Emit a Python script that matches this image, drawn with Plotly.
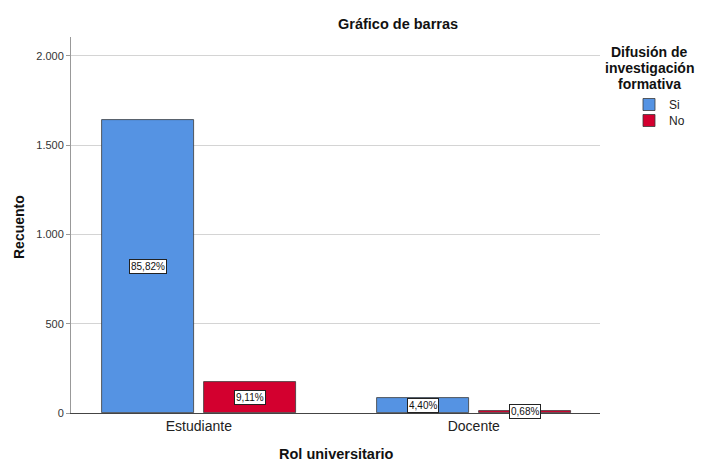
import plotly.graph_objects as go

categories = ["Estudiante", "Docente"]
series_names = ["Si", "No"]
si_counts = [1640, 84]
no_counts = [174, 13]
si_pct = ["85,82%", "4,40%"]
no_pct = ["9,11%", "0,68%"]
y_ticks = [0, 500, 1000, 1500, 2000]
legend_title_lines = ["Difusión de", "investigación", "formativa"]

BLUE = "#5593E3"
RED = "#D3002F"
FONT = "Liberation Sans, Arial, sans-serif"

OFF = 8  # page body margin
W, H = 706 - OFF, 464 - OFF
L, T = 71 - OFF, 37 - OFF
R = W - (600 - OFF)
B = H - (413 - OFF)

xpos = list(range(len(categories)))
bar_w = 0.3345
si_off = -0.3527
no_off = 0.018

fig = go.Figure()
fig.add_trace(go.Bar(x=xpos, y=si_counts, name=series_names[0], width=bar_w, offset=si_off,
                     legend="legend",
                     marker=dict(color=BLUE, line=dict(color="#3a3a3a", width=0.8))))
fig.add_trace(go.Bar(x=xpos, y=no_counts, name=series_names[1], width=bar_w, offset=no_off,
                     legend="legend2",
                     marker=dict(color=RED, line=dict(color="#3a3a3a", width=0.8))))

for i in xpos:
    for vals, labs, off in ((si_counts, si_pct, si_off), (no_counts, no_pct, no_off)):
        fig.add_annotation(x=i + off + bar_w / 2, y=vals[i] / 2, text=labs[i], showarrow=False,
                           xref="x", yref="y", bgcolor="white", bordercolor="#222222",
                           borderwidth=1, borderpad=1,
                           font=dict(family=FONT, size=10, color="#111111"))

pw = W - L - R
ph = H - T - B
def px_x(p):
    return (p - OFF - L) / pw
def px_y(p):
    return (H - B - (p - OFF)) / ph

def label(text, x, y, size, angle=0):
    fig.add_annotation(text=text, x=px_x(x), y=px_y(y), xref="paper", yref="paper",
                       xanchor="center", yanchor="middle", showarrow=False, textangle=angle,
                       font=dict(family=FONT, size=size, color="#111111"))

label("<b>Gráfico de barras</b>", 398, 24, 14.5)
for k, line in enumerate(legend_title_lines):
    label(f"<b>{line}</b>", 649, 52 + 16 * k, 14)
label("<b>Recuento</b>", 19, 227, 14, angle=-90)
label("<b>Rol universitario</b>", 336, 454, 14.5)

leg_common = dict(xref="container", yref="container", xanchor="left", yanchor="top",
                  font=dict(family=FONT, size=12, color="#222222"), bgcolor="rgba(0,0,0,0)")
fig.update_layout(
    width=W, height=H,
    margin=dict(l=L, r=R, t=T, b=B, pad=0, autoexpand=False),
    paper_bgcolor="white", plot_bgcolor="white",
    separators=",.",
    showlegend=True,
    legend=dict(x=(629 - OFF) / W, y=1 - (90 - OFF) / H, **leg_common),
    legend2=dict(x=(629 - OFF) / W, y=1 - (106 - OFF) / H, **leg_common),
    bargap=0,
)
fig.update_xaxes(range=[-0.465, 1.459], tickmode="array", tickvals=xpos, ticktext=categories,
                 showgrid=False, zeroline=False, showline=True, linecolor="#444444", linewidth=1,
                 ticks="", automargin=False, tickfont=dict(family=FONT, size=14, color="#222222"),
                 fixedrange=True)
fig.update_yaxes(range=[0, 2106], tickvals=y_ticks, tickformat=",d", showgrid=True,
                 gridcolor="#D4D4D4", gridwidth=1, zeroline=False, showline=True, automargin=False,
                 linecolor="#999999", linewidth=1, ticks="outside", ticklen=4, tickcolor="#999999",
                 tickfont=dict(family=FONT, size=11, color="#333333"))

fig.write_html("out.html")
